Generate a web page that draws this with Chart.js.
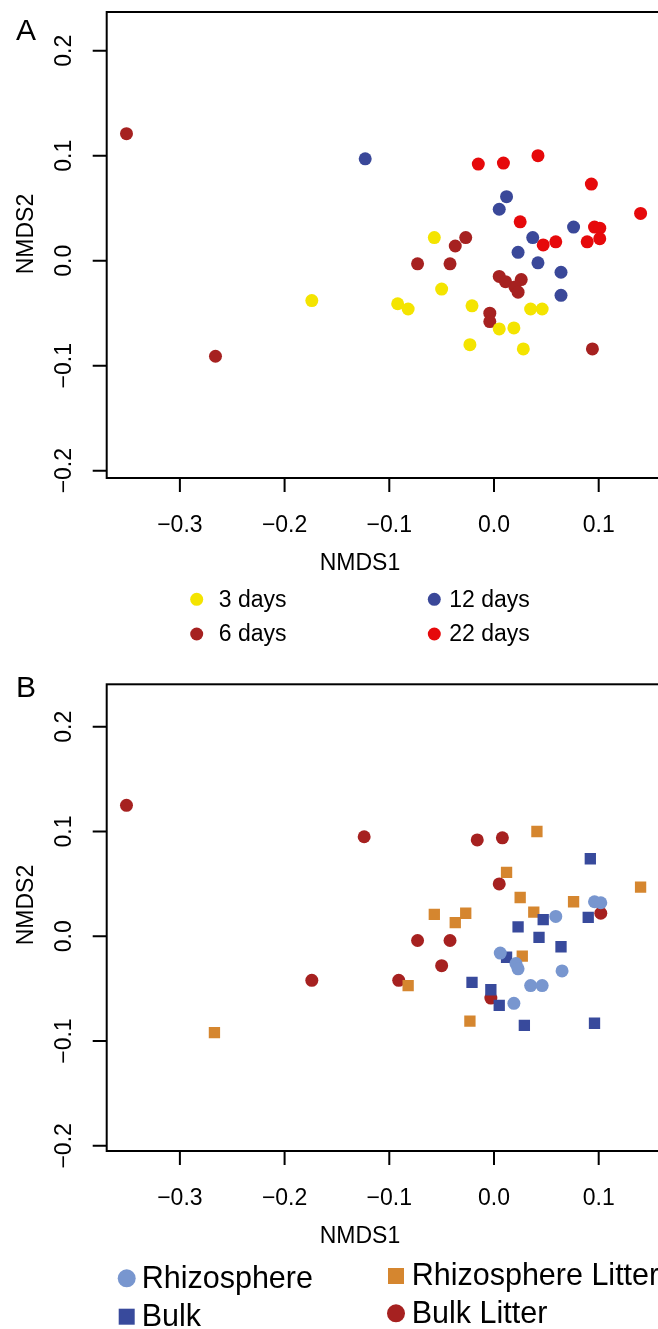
<!DOCTYPE html>
<html>
<head>
<meta charset="utf-8">
<script src="https://cdn.jsdelivr.net/npm/chart.js@4/dist/chart.umd.min.js"></script>
<style>
  html, body { margin: 0; padding: 0; background: #fff; overflow: hidden; }
  #wrap { position: relative; width: 658px; height: 1329px; overflow: hidden; }
  .panel { position: absolute; left: 0; width: 700px; }
  #panelA { top: 0; height: 660px; }
  #panelB { top: 660px; height: 669px; }
</style>
</head>
<body>
<div id="wrap">
  <div class="panel" id="panelA"><canvas id="chartA" width="700" height="660"></canvas></div>
  <div class="panel" id="panelB"><canvas id="chartB" width="700" height="669"></canvas></div>
</div>
<script>
// ---- data, panel A (sampling time) ----
const day3 = [[-0.174,-0.038],[-0.057,0.022],[-0.050,-0.027],[-0.092,-0.041],[-0.082,-0.046],[-0.021,-0.043],
  [0.035,-0.046],[0.046,-0.046],[0.005,-0.065],[0.019,-0.064],[-0.023,-0.080],[0.028,-0.084]];
const day6 = [[-0.351,0.121],[-0.266,-0.091],[0.094,-0.084],[-0.027,0.022],[-0.037,0.014],[-0.073,-0.003],
  [-0.042,-0.003],[0.005,-0.015],[0.011,-0.020],[0.026,-0.018],[0.020,-0.025],[0.023,-0.030],[-0.004,-0.050],[-0.004,-0.058]];
const day12 = [[-0.123,0.097],[0.012,0.061],[0.005,0.049],[0.076,0.032],[0.037,0.022],[0.023,0.008],
  [0.042,-0.002],[0.064,-0.011],[0.064,-0.033]];
const day22 = [[-0.015,0.092],[0.009,0.093],[0.042,0.100],[0.093,0.073],[0.140,0.045],[0.025,0.037],
  [0.096,0.032],[0.101,0.031],[0.101,0.021],[0.089,0.018],[0.059,0.018],[0.047,0.015]];

// ---- data, panel B (compartment) ----
const rhizo = [[0.096,0.033],[0.102,0.032],[0.059,0.019],[0.006,-0.016],[0.021,-0.026],[0.023,-0.031],
  [0.065,-0.033],[0.035,-0.047],[0.046,-0.047],[0.019,-0.064]];
const bulk = [[0.092,0.074],[0.047,0.016],[0.090,0.018],[0.023,0.009],[0.043,-0.001],[0.064,-0.010],
  [0.012,-0.020],[-0.021,-0.044],[-0.003,-0.051],[0.005,-0.066],[0.029,-0.085],[0.096,-0.083]];
const rhizoLitter = [[0.041,0.100],[0.012,0.061],[0.140,0.047],[0.025,0.037],[0.076,0.033],[0.038,0.023],
  [-0.057,0.021],[-0.027,0.022],[-0.037,0.013],[0.027,-0.019],[-0.082,-0.047],[-0.267,-0.092],[-0.023,-0.081]];
const bulkLitter = [[-0.351,0.125],[-0.124,0.095],[-0.016,0.092],[0.008,0.094],[0.005,0.050],[0.102,0.022],
  [-0.073,-0.004],[-0.042,-0.004],[-0.050,-0.028],[-0.091,-0.042],[-0.003,-0.059],[-0.174,-0.042]];

// tick values + labels
const xTicks = [-0.3, -0.2, -0.1, 0.0, 0.1];
const xTickLabels = ['\u22120.3', '\u22120.2', '\u22120.1', '0.0', '0.1'];
const yTicks = [-0.2, -0.1, 0.0, 0.1, 0.2];
const yTickLabels = ['\u22120.2', '\u22120.1', '0.0', '0.1', '0.2'];

const FONT = '"Liberation Sans", Arial, Helvetica, sans-serif';

const toXY = arr => arr.map(p => ({ x: p[0], y: p[1] }));

function ds(label, pts, color, style, r) {
  return {
    label: label,
    data: toXY(pts),
    backgroundColor: color,
    borderColor: color,
    borderWidth: 0,
    pointStyle: style,
    pointRadius: r,
    pointHoverRadius: r
  };
}

// draws the R style box, ticks, labels and legend
function rAxesPlugin(cfg) {
  return {
    id: 'rAxes',
    afterDraw(chart) {
      const ctx = chart.ctx;
      const a = chart.chartArea;
      const xs = chart.scales.x, ys = chart.scales.y;
      ctx.save();
      ctx.strokeStyle = '#000';
      ctx.lineWidth = 2;
      ctx.strokeRect(a.left, a.top, a.right - a.left, a.bottom - a.top);

      // ticks
      ctx.beginPath();
      xTicks.forEach(v => {
        const px = xs.getPixelForValue(v);
        ctx.moveTo(px, a.bottom); ctx.lineTo(px, a.bottom + 14);
      });
      yTicks.forEach(v => {
        const py = ys.getPixelForValue(v);
        ctx.moveTo(a.left, py); ctx.lineTo(a.left - 14, py);
      });
      ctx.stroke();

      ctx.fillStyle = '#000';
      ctx.font = '23px ' + FONT;
      ctx.textAlign = 'center';
      ctx.textBaseline = 'alphabetic';
      xTicks.forEach((v, i) => {
        ctx.fillText(xTickLabels[i], xs.getPixelForValue(v), a.bottom + 54);
      });
      yTicks.forEach((v, i) => {
        ctx.save();
        ctx.translate(71, ys.getPixelForValue(v));
        ctx.rotate(-Math.PI / 2);
        ctx.fillText(yTickLabels[i], 0, 0);
        ctx.restore();
      });

      // axis titles
      ctx.fillText('NMDS1', 360, a.bottom + cfg.xTitleOff);
      ctx.save();
      ctx.translate(33, cfg.yTitleY);
      ctx.rotate(-Math.PI / 2);
      ctx.fillText('NMDS2', 0, 0);
      ctx.restore();

      // panel letter
      ctx.textAlign = 'left';
      ctx.font = '30px ' + FONT;
      ctx.fillText(cfg.letter, 16, cfg.letterY);

      // legend
      ctx.font = cfg.legendFont + 'px ' + FONT;
      ctx.textBaseline = 'middle';
      cfg.legend.forEach(item => {
        const d = chart.data.datasets[item.i];
        ctx.fillStyle = d.backgroundColor;
        if (d.pointStyle === 'rect') {
          const s = item.size;
          ctx.fillRect(item.x - s / 2, item.y - s / 2, s, s);
        } else {
          ctx.beginPath();
          ctx.arc(item.x, item.y, item.size / 2, 0, Math.PI * 2);
          ctx.fill();
        }
        ctx.fillStyle = '#000';
        ctx.fillText(d.label, item.tx, item.y + 1);
      });
      ctx.restore();
    }
  };
}

function makeChart(id, datasets, yMin, yMax, pad, cfg) {
  return new Chart(document.getElementById(id), {
    type: 'scatter',
    data: { datasets: datasets },
    options: {
      responsive: false,
      animation: false,
      events: [],
      layout: { padding: pad },
      plugins: { legend: { display: false }, tooltip: { enabled: false } },
      scales: {
        x: { type: 'linear', min: -0.3699, max: 0.1872, display: false },
        y: { type: 'linear', min: yMin, max: yMax, display: false }
      }
    },
    plugins: [rAxesPlugin(cfg)]
  });
}

// panel A
makeChart('chartA', [
  ds('3 days', day3, '#F4E400', 'circle', 6.5),
  ds('6 days', day6, '#A62120', 'circle', 6.5),
  ds('12 days', day12, '#3A4899', 'circle', 6.5),
  ds('22 days', day22, '#E6090B', 'circle', 6.5)
], -0.2070, 0.2369, { left: 106.7, top: 12, right: 10, bottom: 182 }, {
  letter: 'A', letterY: 40, xTitleOff: 92, yTitleY: 234, legendFont: 23,
  legend: [
    { i: 0, x: 196.7, y: 599.3, tx: 218.7, size: 13 },
    { i: 1, x: 196.7, y: 634, tx: 218.7, size: 13 },
    { i: 2, x: 434.3, y: 599.3, tx: 449.3, size: 13 },
    { i: 3, x: 434.3, y: 634, tx: 449.3, size: 13 }
  ]
});

// panel B
makeChart('chartB', [
  ds('Rhizosphere', rhizo, '#7896CF', 'circle', 6.5),
  ds('Bulk', bulk, '#384A9C', 'rect', 8),
  ds('Rhizosphere Litter', rhizoLitter, '#D5862F', 'rect', 8),
  ds('Bulk Litter', bulkLitter, '#A62120', 'circle', 6.5)
], -0.2049, 0.2405, { left: 106.7, top: 24.3, right: 10, bottom: 178 }, {
  letter: 'B', letterY: 36.7, xTitleOff: 91.7, yTitleY: 245, legendFont: 30.5,
  legend: [
    { i: 0, x: 126.7, y: 618.3, tx: 141.7, size: 18 },
    { i: 1, x: 126.7, y: 656.7, tx: 141.7, size: 16 },
    { i: 2, x: 396, y: 616, tx: 411.7, size: 16 },
    { i: 3, x: 396, y: 653.3, tx: 411.7, size: 18 }
  ]
});
</script>
</body>
</html>
